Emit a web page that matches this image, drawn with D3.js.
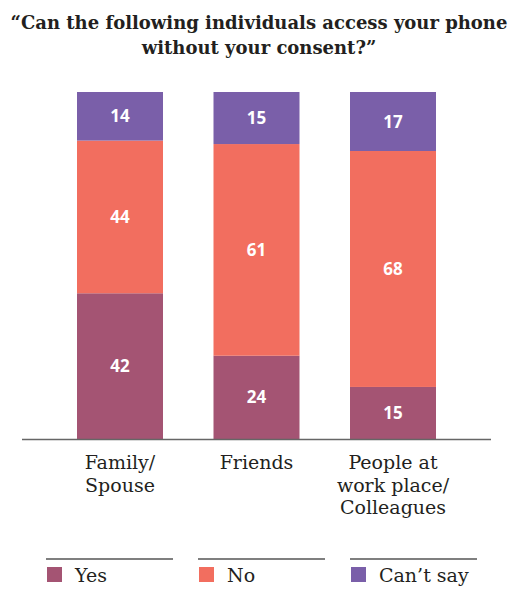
<!DOCTYPE html>
<html lang="en">
<head>
    <meta charset="UTF-8">
    <title></title>
    <style>
        body { margin: 0; background: #fff; }
    </style>
</head>
<body>
<script src="https://d3js.org/d3.v7.min.js"></script>
<script>
    var categories = [['Family/', 'Spouse'], ['Friends'], ['People at', 'work place/', 'Colleagues']];
    var seriesNames = ['Yes', 'No', 'Can\u2019t say'];
    var yes = [42, 24, 15];
    var no = [44, 61, 68];
    var cantSay = [14, 15, 17];
    var colors = ['#a45473', '#f26e5f', '#7a5fa9'];

    var width = 514,
        height = 590,
        baseY = 439,
        topY = 92;

    var svg = d3.select('body').append('svg')
                .attr('width', width)
                .attr('height', height);

    // title
    var title = svg.append('text')
       .attr('text-anchor', 'middle')
       .attr('font-family', 'DejaVu Serif')
       .attr('font-weight', 'bold')
       .attr('font-size', 18)
       .attr('fill', '#231f20');
    title.append('tspan').attr('x', 259).attr('y', 29)
         .text('\u201cCan the following individuals access your phone');
    title.append('tspan').attr('x', 259).attr('y', 54)
         .text('without your consent?\u201d');

    var x = d3.scaleBand().domain([0, 1, 2]).range([77, 436]).paddingInner(0.37).paddingOuter(0);
    var y = d3.scaleLinear().domain([0, 100]).range([baseY, topY]);

    var rows = categories.map(function(c, i) {
        return {i: i, Yes: yes[i], No: no[i], 'Can\u2019t say': cantSay[i]};
    });
    var stacked = d3.stack().keys(seriesNames)(rows);

    var layer = svg.selectAll('g.layer')
       .data(stacked)
       .enter().append('g')
       .attr('class', 'layer')
       .attr('fill', function(d, i) { return colors[i]; });

    layer.selectAll('rect')
       .data(function(d) { return d; })
       .enter().append('rect')
       .attr('x', function(d) { return x(d.data.i); })
       .attr('width', x.bandwidth())
       .attr('y', function(d) { return y(d[1]); })
       .attr('height', function(d) { return y(d[0]) - y(d[1]); });

    layer.selectAll('text')
       .data(function(d) { return d; })
       .enter().append('text')
       .attr('x', function(d) { return x(d.data.i) + x.bandwidth() / 2; })
       .attr('y', function(d) { return (y(d[0]) + y(d[1])) / 2; })
       .attr('dy', '0.36em')
       .attr('text-anchor', 'middle')
       .attr('font-family', 'Noto Sans')
       .attr('font-weight', 'bold')
       .attr('font-size', 17)
       .attr('fill', '#fff')
       .text(function(d) { return d[1] - d[0]; });

    // baseline
    svg.append('line')
       .attr('x1', 22).attr('x2', 491)
       .attr('y1', baseY + 0.5).attr('y2', baseY + 0.5)
       .attr('stroke', '#666').attr('stroke-width', 1.5);

    // category labels
    var cat = svg.selectAll('text.cat')
       .data(categories)
       .enter().append('text')
       .attr('class', 'cat')
       .attr('text-anchor', 'middle')
       .attr('font-family', 'DejaVu Serif')
       .attr('font-size', 19)
       .attr('fill', '#231f20');
    cat.each(function(lines, i) {
        d3.select(this).selectAll('tspan')
          .data(lines)
          .enter().append('tspan')
          .attr('x', x(i) + x.bandwidth() / 2)
          .attr('y', function(l, j) { return 469 + j * 22.5; })
          .text(function(l) { return l; });
    });

    // legend
    var legend = svg.selectAll('g.legend')
       .data(seriesNames)
       .enter().append('g')
       .attr('class', 'legend')
       .attr('transform', function(d, i) { return 'translate(' + (46 + i * 152) + ',0)'; });
    legend.append('line')
       .attr('x1', 0).attr('x2', 127)
       .attr('y1', 559).attr('y2', 559)
       .attr('stroke', '#555').attr('stroke-width', 1.5);
    legend.append('rect')
       .attr('x', 1).attr('y', 567)
       .attr('width', 15).attr('height', 15)
       .attr('fill', function(d, i) { return colors[i]; });
    legend.append('text')
       .attr('x', 29).attr('y', 582)
       .attr('font-family', 'DejaVu Serif')
       .attr('font-size', 19)
       .attr('fill', '#231f20')
       .text(function(d) { return d; });
</script>
</body>
</html>
